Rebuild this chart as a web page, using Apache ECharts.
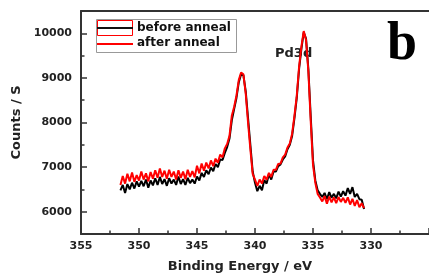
<!DOCTYPE html>
<html>
<head>
<meta charset="utf-8">
<script src="https://cdn.jsdelivr.net/npm/echarts@6/dist/echarts.min.js"></script>
<style>
html,body{margin:0;padding:0;background:#fff;}
#xpsChart{width:429px;height:278px;}
</style>
</head>
<body>
<div id="xpsChart"></div>
<script>

// XPS Pd3d spectrum, before / after anneal

const energy = [
351.6,351.4,351.2,351.0,350.8,350.6,350.4,350.2,350.0,349.8,
349.6,349.4,349.2,349.0,348.8,348.6,348.4,348.2,348.0,347.8,
347.6,347.4,347.2,347.0,346.8,346.6,346.4,346.2,346.0,345.8,
345.6,345.4,345.2,345.0,344.8,344.6,344.4,344.2,344.0,343.8,
343.6,343.4,343.2,343.0,342.8,342.6,342.4,342.2,342.0,341.8,
341.6,341.4,341.2,341.0,340.8,340.6,340.4,340.2,340.0,339.8,
339.6,339.4,339.2,339.0,338.8,338.6,338.4,338.2,338.0,337.8,
337.6,337.4,337.2,337.0,336.8,336.6,336.4,336.2,336.0,335.8,
335.6,335.4,335.2,335.0,334.8,334.6,334.4,334.2,334.0,333.8,
333.6,333.4,333.2,333.0,332.8,332.6,332.4,332.2,332.0,331.8,
331.6,331.4,331.2,331.0,330.8,330.6
];

const beforeAnneal = [
6480,6600,6420,6620,6500,6650,6520,6680,6560,6690,
6570,6720,6540,6700,6590,6750,6600,6780,6620,6730,
6580,6750,6630,6720,6600,6790,6620,6730,6600,6760,
6640,6720,6630,6790,6700,6870,6780,6930,6840,6990,
6910,7070,7000,7170,7160,7320,7450,7640,8050,8300,
8550,8900,9080,9060,8700,8100,7500,6900,6650,6460,
6580,6480,6710,6630,6840,6720,6900,6900,7020,7060,
7170,7240,7400,7500,7700,8100,8550,9200,9650,10020,
9880,9200,8150,7150,6700,6480,6400,6330,6420,6280,
6440,6310,6400,6300,6450,6340,6460,6360,6530,6400,
6550,6330,6400,6280,6270,6060
];

const afterAnneal = [
6600,6800,6630,6850,6680,6880,6670,6820,6700,6900,
6720,6860,6680,6890,6740,6930,6760,6970,6780,6920,
6740,6940,6780,6900,6720,6930,6760,6900,6730,6940,
6780,6910,6770,7030,6860,7080,6920,7100,6970,7150,
7020,7190,7100,7280,7220,7420,7520,7700,8150,8350,
8600,8950,9120,9080,8650,8000,7400,6850,6720,6580,
6720,6630,6800,6720,6870,6780,6940,6940,7070,7080,
7220,7280,7440,7530,7750,8150,8600,9250,9700,10050,
9850,9150,8050,7050,6650,6400,6320,6230,6350,6180,
6340,6210,6320,6190,6330,6220,6310,6200,6320,6160,
6290,6130,6260,6100,6190,6080
];

const xTicks = [355,350,345,340,335,330];
const yTicks = [6000,7000,8000,9000,10000];
const yMinorTicks = [6500,7500,8500,9500];

const legendNames = ["before anneal","after anneal"];


function createXpsChart(){

const dom = document.getElementById("xpsChart");

if(!dom)return;

const chart = echarts.init(dom);

const axisColor = "#333";

const labelFont = {
color:"#222",
fontFamily:"DejaVu Sans",
fontWeight:"bold",
fontSize:11
};

chart.setOption({

animation:false,

grid:{
left:81,
right:-37,
top:11,
bottom:40
},

xAxis:[{
type:"value",
inverse:true,
min:325,
max:355,
interval:5,
name:"Binding Energy / eV",
nameLocation:"middle",
nameGap:26,
nameTextStyle:{
color:"#222",
fontFamily:"DejaVu Sans",
fontWeight:"bold",
fontSize:13,
padding:[0,30,0,0]
},
axisLine:{lineStyle:{color:axisColor,width:2}},
axisTick:{inside:true,length:6,lineStyle:{color:axisColor,width:1.5}},
minorTick:{show:true,splitNumber:2,length:3.5,lineStyle:{color:axisColor,width:1.5}},
axisLabel:Object.assign({
margin:7,
customValues:xTicks,
formatter:v=>String(v)
},labelFont),
splitLine:{show:false}
},{
type:"value",
position:"top",
inverse:true,
min:325,
max:355,
axisLine:{lineStyle:{color:axisColor,width:2}},
axisTick:{show:false},
axisLabel:{show:false},
splitLine:{show:false}
}],

yAxis:[{
type:"value",
min:5500,
max:10500,
name:"Counts / S",
nameLocation:"middle",
nameGap:50,
nameTextStyle:{
color:"#222",
fontFamily:"DejaVu Sans",
fontWeight:"bold",
fontSize:13
},
axisLine:{show:true,lineStyle:{color:axisColor,width:2}},
axisTick:{show:true,inside:true,length:6,customValues:yTicks,lineStyle:{color:axisColor,width:1.5}},
axisLabel:Object.assign({
margin:9,
customValues:yTicks,
formatter:v=>String(v)
},labelFont),
splitLine:{show:false}
},{
type:"value",
position:"left",
min:5500,
max:10500,
axisLine:{show:false},
axisTick:{show:true,inside:true,length:3.5,customValues:yMinorTicks,lineStyle:{color:axisColor,width:1.5}},
axisLabel:{show:false},
splitLine:{show:false}
}],

series:[{
name:legendNames[0],
type:"line",
showSymbol:false,
data:energy.map((e,i)=>[e,beforeAnneal[i]]),
lineStyle:{color:"#000",width:2},
itemStyle:{color:"#000"}
},{
name:legendNames[1],
type:"line",
showSymbol:false,
data:energy.map((e,i)=>[e,afterAnneal[i]]),
lineStyle:{color:"#ff0000",width:2},
itemStyle:{color:"#ff0000"}
}],

graphic:[

// legend box
{
type:"rect",
shape:{x:96.5,y:19.5,width:140,height:33},
style:{fill:"#fff",stroke:"#999",lineWidth:1}
},
{
type:"rect",
shape:{x:97.5,y:20.5,width:35,height:15},
style:{fill:"none",stroke:"#ff0000",lineWidth:1}
},
{
type:"line",
shape:{x1:97,y1:28,x2:133,y2:28},
style:{stroke:"#111",lineWidth:2}
},
{
type:"line",
shape:{x1:97,y1:44,x2:133,y2:44},
style:{stroke:"#ff0000",lineWidth:2}
},
{
type:"text",
left:137,
top:22,
style:{text:legendNames[0],fill:"#111",font:"bold 12px 'DejaVu Sans'"}
},
{
type:"text",
left:137,
top:37,
style:{text:legendNames[1],fill:"#111",font:"bold 12px 'DejaVu Sans'"}
},

// peak label
{
type:"text",
left:275,
top:47,
style:{text:"Pd3d",fill:"#222",font:"bold 13px 'DejaVu Sans'"}
},

// panel letter
{
type:"text",
left:387,
top:18,
style:{text:"b",fill:"#000",font:"bold 54px 'Liberation Serif'"}
}

]

});

}

createXpsChart();

</script>
</body>
</html>
